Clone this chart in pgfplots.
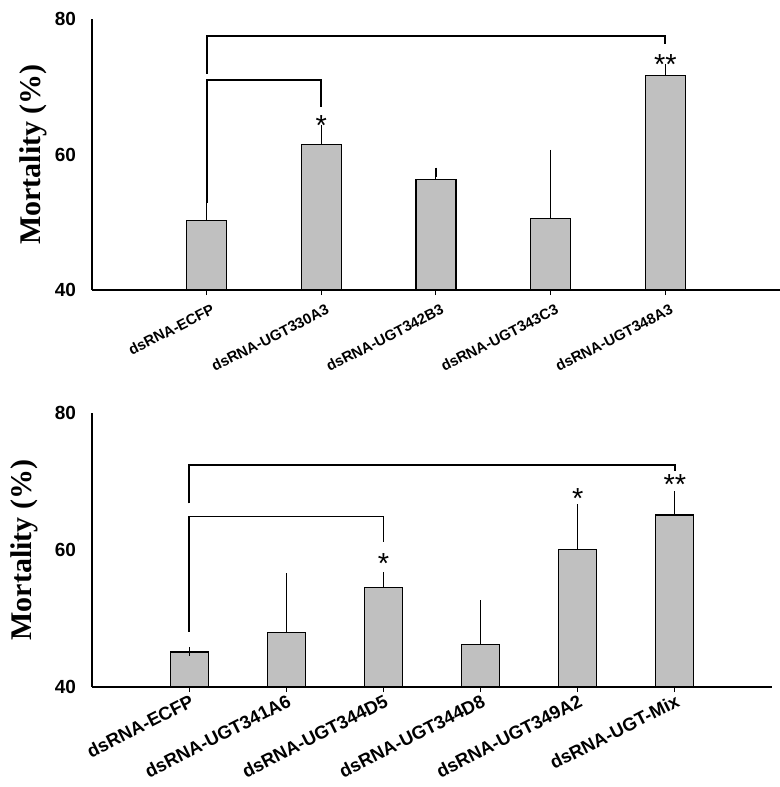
\documentclass[border=0pt]{standalone}
\usepackage{pgfplots}
\pgfplotsset{compat=1.18}
\usepackage{fontspec}
\setmainfont{Liberation Sans}
\newfontfamily\serifb{Liberation Serif}
\definecolor{barfill}{RGB}{192,192,192}
\tikzset{
  star/.style={font=\fontsize{14.5}{14.5}\selectfont, inner sep=0pt},
  brk/.style={line width=0.9pt},
}
\begin{document}
\begin{tikzpicture}
\useasboundingbox (-46pt,145pt) rectangle (344pt,-248.5pt);
\pgfplotsset{
  mystyle/.style={
    scale only axis,
    axis x line=bottom, axis y line=left,
    axis line style={-, line width=0.7pt},
    ymin=40, ymax=80, ytick={40,60,80},
    ytick style={draw=none},
    yticklabel style={font=\bfseries\fontsize{9.5}{10}\selectfont, /pgf/number format/assume math mode=true, xshift=-2pt},
    xtick=data,
    x tick style={line width=0.5pt, black},
    tick align=outside, major tick length=2.5pt,
    ybar, bar shift=0pt,
    clip=false,
  },
  mybar/.style={fill=barfill, draw=black, line width=0.6pt,
    error bars/.cd, y dir=plus, y explicit,
    error bar style={line width=0.5pt, black},
    error mark options={line width=0.6pt, mark size=2.3pt, black}},
}
% ---------- top panel ----------
\begin{axis}[mystyle, at={(0,0)}, anchor=south west,
  width=344pt, height=135.5pt,
  xmin=-1, xmax=5, bar width=20pt,
  xticklabels={dsRNA-ECFP,dsRNA-UGT330A3,dsRNA-UGT342B3,dsRNA-UGT343C3,dsRNA-UGT348A3},
  xticklabel style={font=\bfseries\fontsize{7.4}{8}\selectfont, anchor=north east, inner sep=0pt, xshift=2pt, yshift=-4pt, rotate=27},
  ylabel={\serifb\bfseries\fontsize{15}{18}\selectfont Mortality (\%)},
  y label style={at={(axis description cs:-0.085,0.5)}, anchor=center},
]
\addplot[mybar] coordinates {
  (0,50.2) +- (0,2.5)
  (1,61.5) +- (0,2.2)
  (2,56.3) +- (0,1.1)
  (3,50.5) +- (0,9.5)
  (4,71.7) +- (0,1.0)
};
\draw[brk] (axis cs:0,71.9) -- (axis cs:0,77.5) -- (axis cs:4,77.5) -- (axis cs:4,76.3);
\draw[brk] (axis cs:0,52.9) -- (axis cs:0,71.0) -- (axis cs:1,71.0) -- (axis cs:1,67.0);
\node[star] at (axis cs:1,64.3) {*};
\node[star] at (axis cs:4,73.3) {**};
\end{axis}
% ---------- bottom panel ----------
\begin{axis}[mystyle, at={(0,-198.5pt)}, anchor=south west,
  width=340pt, height=137pt,
  xmin=-1, xmax=6, bar width=19pt,
  xticklabels={dsRNA-ECFP,dsRNA-UGT341A6,dsRNA-UGT344D5,dsRNA-UGT344D8,dsRNA-UGT349A2,dsRNA-UGT-Mix},
  xticklabel style={font=\bfseries\fontsize{9.2}{10}\selectfont, anchor=north east, inner sep=0pt, xshift=0pt, yshift=-0.5pt, rotate=27},
  ylabel={\serifb\bfseries\fontsize{15}{18}\selectfont Mortality (\%)},
  y label style={at={(axis description cs:-0.099,0.5)}, anchor=center},
]
\addplot[mybar] coordinates {
  (0,45.1) +- (0,0.1)
  (1,48.0) +- (0,7.9)
  (2,54.5) +- (0,1.6)
  (3,46.2) +- (0,5.8)
  (4,60.1) +- (0,5.9)
  (5,65.1) +- (0,2.8)
};
\draw[brk] (axis cs:0,66.8) -- (axis cs:0,72.4) -- (axis cs:5,72.4) -- (axis cs:5,71.5);
\draw[brk] (axis cs:0,48.1) -- (axis cs:0,64.9) -- (axis cs:2,64.9) -- (axis cs:2,61.2);
\node[star] at (axis cs:2,58.0) {*};
\node[star] at (axis cs:4,67.5) {*};
\node[star] at (axis cs:5,69.6) {**};
\end{axis}
\end{tikzpicture}
\end{document}
